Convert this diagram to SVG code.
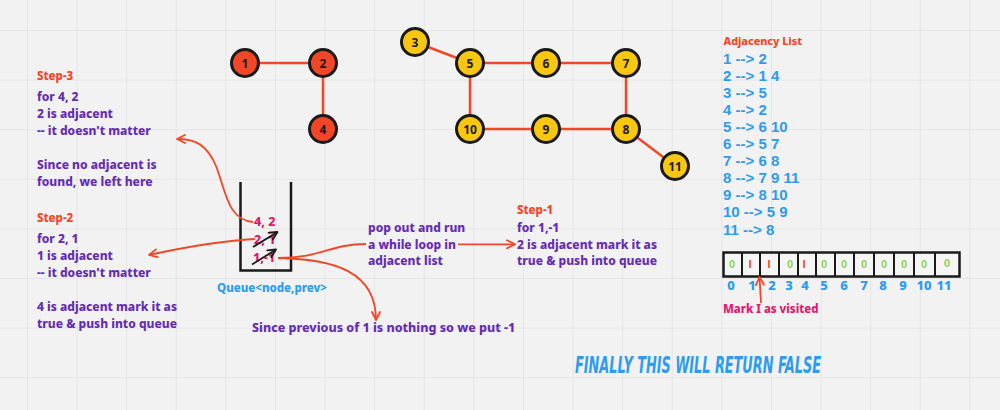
<svg xmlns="http://www.w3.org/2000/svg" width="1000" height="410" viewBox="0 0 1000 410">
<defs>
<pattern id="grid" patternUnits="userSpaceOnUse" x="27" y="30" width="49.6" height="49.6">
<path d="M0 0 H49.6 M0 0 V49.6" stroke="#e5e5e5" stroke-width="2" fill="none"/>
</pattern>
<marker id="ah" markerUnits="userSpaceOnUse" viewBox="0 0 10 10" refX="9" refY="5" markerWidth="10" markerHeight="10" orient="auto">
<path d="M1,1 L9,5 L1,9" fill="none" stroke="#f24726" stroke-width="1.8" stroke-linecap="round" stroke-linejoin="round"/>
</marker>
<marker id="ahk" markerUnits="userSpaceOnUse" viewBox="0 0 10 10" refX="9" refY="5" markerWidth="10" markerHeight="10" orient="auto">
<path d="M1,1 L9,5 L1,9" fill="none" stroke="#1a1a1a" stroke-width="1.8" stroke-linecap="round" stroke-linejoin="round"/>
</marker>
<style>
text{font-family:"Noto Sans","Liberation Sans",sans-serif;font-weight:800}
.n{font-size:12px;fill:#1a1a1a;text-anchor:middle;font-weight:bold}
.nr{fill:#f24726;stroke:#1a1a1a;stroke-width:3}
.ny{fill:#fac710;stroke:#1a1a1a;stroke-width:3}
.edge{stroke:#f24726;stroke-width:2.5;fill:none}
.con{stroke:#f24726;stroke-width:1.8;fill:none}
.p{font-size:12px;fill:#652cb3}
.st{font-size:11.5px;fill:#f24726}
.pk{font-size:12.5px;fill:#e2176c}
.bl{font-family:"Liberation Sans",Arial,sans-serif;font-weight:bold;font-size:15px;fill:#2d9bf0}
.idx{font-size:13px;fill:#2d9bf0;text-anchor:middle}
.v0{font-family:"Liberation Sans",Arial,sans-serif;font-weight:bold;font-size:11px;fill:#8fd14f;text-anchor:middle}
.v1{font-family:"Liberation Sans",Arial,sans-serif;font-weight:bold;font-size:11px;fill:#f24726;text-anchor:middle}
</style>
</defs>
<rect width="1000" height="410" fill="#f2f2f2"/>
<rect width="1000" height="410" fill="url(#grid)"/>

<g id="edges">
<line class="edge" x1="245" y1="63" x2="323" y2="63"/>
<line class="edge" x1="323" y1="63" x2="323" y2="129"/>
<line class="edge" x1="415" y1="42" x2="470" y2="63"/>
<line class="edge" x1="470" y1="63" x2="546" y2="63"/>
<line class="edge" x1="546" y1="63" x2="626" y2="63"/>
<line class="edge" x1="470" y1="63" x2="470" y2="129"/>
<line class="edge" x1="626" y1="63" x2="626" y2="129"/>
<line class="edge" x1="470" y1="129" x2="546" y2="129"/>
<line class="edge" x1="546" y1="129" x2="626" y2="129"/>
<line class="edge" x1="626" y1="129" x2="675" y2="166"/>
</g>

<g id="node-1"><circle class="nr" cx="245" cy="63" r="13.5"/><text class="n" x="245" y="67.5">1</text></g>
<g id="node-2"><circle class="nr" cx="323" cy="63" r="13.5"/><text class="n" x="323" y="67.5">2</text></g>
<g id="node-4"><circle class="nr" cx="323" cy="129" r="13.5"/><text class="n" x="323" y="133.5">4</text></g>
<g id="node-3"><circle class="ny" cx="415" cy="42" r="13.5"/><text class="n" x="415" y="46.5">3</text></g>
<g id="node-5"><circle class="ny" cx="470" cy="63" r="13.5"/><text class="n" x="470" y="67.5">5</text></g>
<g id="node-6"><circle class="ny" cx="546" cy="63" r="13.5"/><text class="n" x="546" y="67.5">6</text></g>
<g id="node-7"><circle class="ny" cx="626" cy="63" r="13.5"/><text class="n" x="626" y="67.5">7</text></g>
<g id="node-10"><circle class="ny" cx="470" cy="129" r="13.5"/><text class="n" x="470" y="133.5">10</text></g>
<g id="node-9"><circle class="ny" cx="546" cy="129" r="13.5"/><text class="n" x="546" y="133.5">9</text></g>
<g id="node-8"><circle class="ny" cx="626" cy="129" r="13.5"/><text class="n" x="626" y="133.5">8</text></g>
<g id="node-11"><circle class="ny" cx="675" cy="166" r="13.5"/><text class="n" x="675" y="170.5">11</text></g>

<g id="step3">
<text class="st" x="37" y="80">Step-3</text>
<text class="p" x="37" y="101">for 4, 2</text>
<text class="p" x="37" y="118">2 is adjacent</text>
<text class="p" x="37" y="135">-- it doesn't matter</text>
<text class="p" x="37" y="169">Since no adjacent is</text>
<text class="p" x="37" y="186">found, we left here</text>
</g>

<g id="step2">
<text class="st" x="37" y="222">Step-2</text>
<text class="p" x="37" y="243">for 2, 1</text>
<text class="p" x="37" y="260">1 is adjacent</text>
<text class="p" x="37" y="277">-- it doesn't matter</text>
<text class="p" x="37" y="311">4 is adjacent mark it as</text>
<text class="p" x="37" y="328">true &amp; push into queue</text>
</g>

<g id="queue">
<path d="M240.5,182 V270.5 H291 V182" fill="none" stroke="#1a1a1a" stroke-width="2.5"/>
<text class="pk" x="254" y="226">4, 2</text>
<text class="pk" x="254" y="244">2, 1</text>
<text class="pk" x="253" y="262">1,-1</text>
<line x1="253" y1="247" x2="277.5" y2="232" stroke="#1a1a1a" stroke-width="1.8" marker-end="url(#ahk)"/>
<line x1="252" y1="264.5" x2="276" y2="249.5" stroke="#1a1a1a" stroke-width="1.8" marker-end="url(#ahk)"/>
<text x="217" y="292" style="font-size:11.5px;fill:#2d9bf0">Queue&lt;node,prev&gt;</text>
</g>

<g id="popout">
<text class="p" x="368" y="232">pop out and run</text>
<text class="p" x="368" y="248.5">a while loop in</text>
<text class="p" x="368" y="265">adjacent list</text>
</g>

<g id="step1">
<text class="st" x="517" y="214">Step-1</text>
<text class="p" x="517" y="232">for 1,-1</text>
<text class="p" x="517" y="248.5">2 is adjacent mark it as</text>
<text class="p" x="517" y="265">true &amp; push into queue</text>
</g>

<g id="note-prev">
<text class="p" x="252" y="332" style="font-size:12.5px">Since previous of 1 is nothing so we put -1</text>
</g>

<g id="adjacency">
<text class="st" x="723.5" y="44.5" style="font-size:10.8px">Adjacency List</text>
<text class="bl" x="723" y="63.5">1 --&gt; 2</text>
<text class="bl" x="723" y="80.6">2 --&gt; 1 4</text>
<text class="bl" x="723" y="97.7">3 --&gt; 5</text>
<text class="bl" x="723" y="114.8">4 --&gt; 2</text>
<text class="bl" x="723" y="131.9">5 --&gt; 6 10</text>
<text class="bl" x="723" y="149">6 --&gt; 5 7</text>
<text class="bl" x="723" y="166.1">7 --&gt; 6 8</text>
<text class="bl" x="723" y="183.2">8 --&gt; 7 9 11</text>
<text class="bl" x="723" y="200.3">9 --&gt; 8 10</text>
<text class="bl" x="723" y="217.4">10 --&gt; 5 9</text>
<text class="bl" x="723" y="234.5">11 --&gt; 8</text>
</g>

<g id="visited">
<rect x="723.5" y="252.5" width="236" height="24" fill="#f5f5f5" stroke="#1a1a1a" stroke-width="2.5"/>
<g stroke="#1a1a1a" stroke-width="2">
<line x1="742" y1="252.5" x2="742" y2="276.5"/>
<line x1="760" y1="252.5" x2="760" y2="276.5"/>
<line x1="779" y1="252.5" x2="779" y2="276.5"/>
<line x1="798" y1="252.5" x2="798" y2="276.5"/>
<line x1="816" y1="252.5" x2="816" y2="276.5"/>
<line x1="835" y1="252.5" x2="835" y2="276.5"/>
<line x1="854" y1="252.5" x2="854" y2="276.5"/>
<line x1="874" y1="252.5" x2="874" y2="276.5"/>
<line x1="894" y1="252.5" x2="894" y2="276.5"/>
<line x1="914" y1="252.5" x2="914" y2="276.5"/>
<line x1="935" y1="252.5" x2="935" y2="276.5"/>
</g>
<text class="v0" x="732" y="268">0</text>
<text class="v1" x="750" y="268">I</text>
<text class="v1" x="769" y="268">I</text>
<text class="v0" x="790" y="268">0</text>
<text class="v1" x="804" y="268">I</text>
<text class="v0" x="824" y="268">0</text>
<text class="v0" x="844" y="268">0</text>
<text class="v0" x="864" y="268">0</text>
<text class="v0" x="884" y="268">0</text>
<text class="v0" x="904" y="268">0</text>
<text class="v0" x="924" y="268">0</text>
<text class="v0" x="947" y="267">0</text>
<text class="idx" x="731" y="290">0</text>
<text class="idx" x="752" y="290">1</text>
<text class="idx" x="772" y="290">2</text>
<text class="idx" x="789" y="290">3</text>
<text class="idx" x="805" y="290">4</text>
<text class="idx" x="824" y="290">5</text>
<text class="idx" x="844" y="290">6</text>
<text class="idx" x="864" y="290">7</text>
<text class="idx" x="883" y="290">8</text>
<text class="idx" x="903" y="290">9</text>
<text class="idx" x="924" y="290">10</text>
<text class="idx" x="944" y="290">11</text>
<text x="723" y="313" style="font-size:11.4px;fill:#e2176c">Mark I as visited</text>
</g>

<g id="connectors">
<path class="con" d="M253,222 C228,220 226,192 216,166 C207,145 196,139 177,139" marker-end="url(#ah)"/>
<path class="con" d="M255,239 C220,241 190,246 149,255" marker-end="url(#ah)"/>
<path class="con" d="M278,258 C322,258 330,244 366,244"/>
<path class="con" d="M278,258 C335,259 376,272 376,320" marker-end="url(#ah)"/>
<path class="con" d="M458,244.3 H515" marker-end="url(#ah)"/>
<path class="con" d="M761,303 L759.5,277" marker-end="url(#ah)"/>
</g>

<text x="575" y="373" textLength="246" lengthAdjust="spacingAndGlyphs" style="font-family:'DejaVu Sans Condensed','DejaVu Sans',sans-serif;font-weight:bold;font-style:italic;font-size:23px;fill:#2d9bf0">FINALLY THIS WILL RETURN FALSE</text>
</svg>
